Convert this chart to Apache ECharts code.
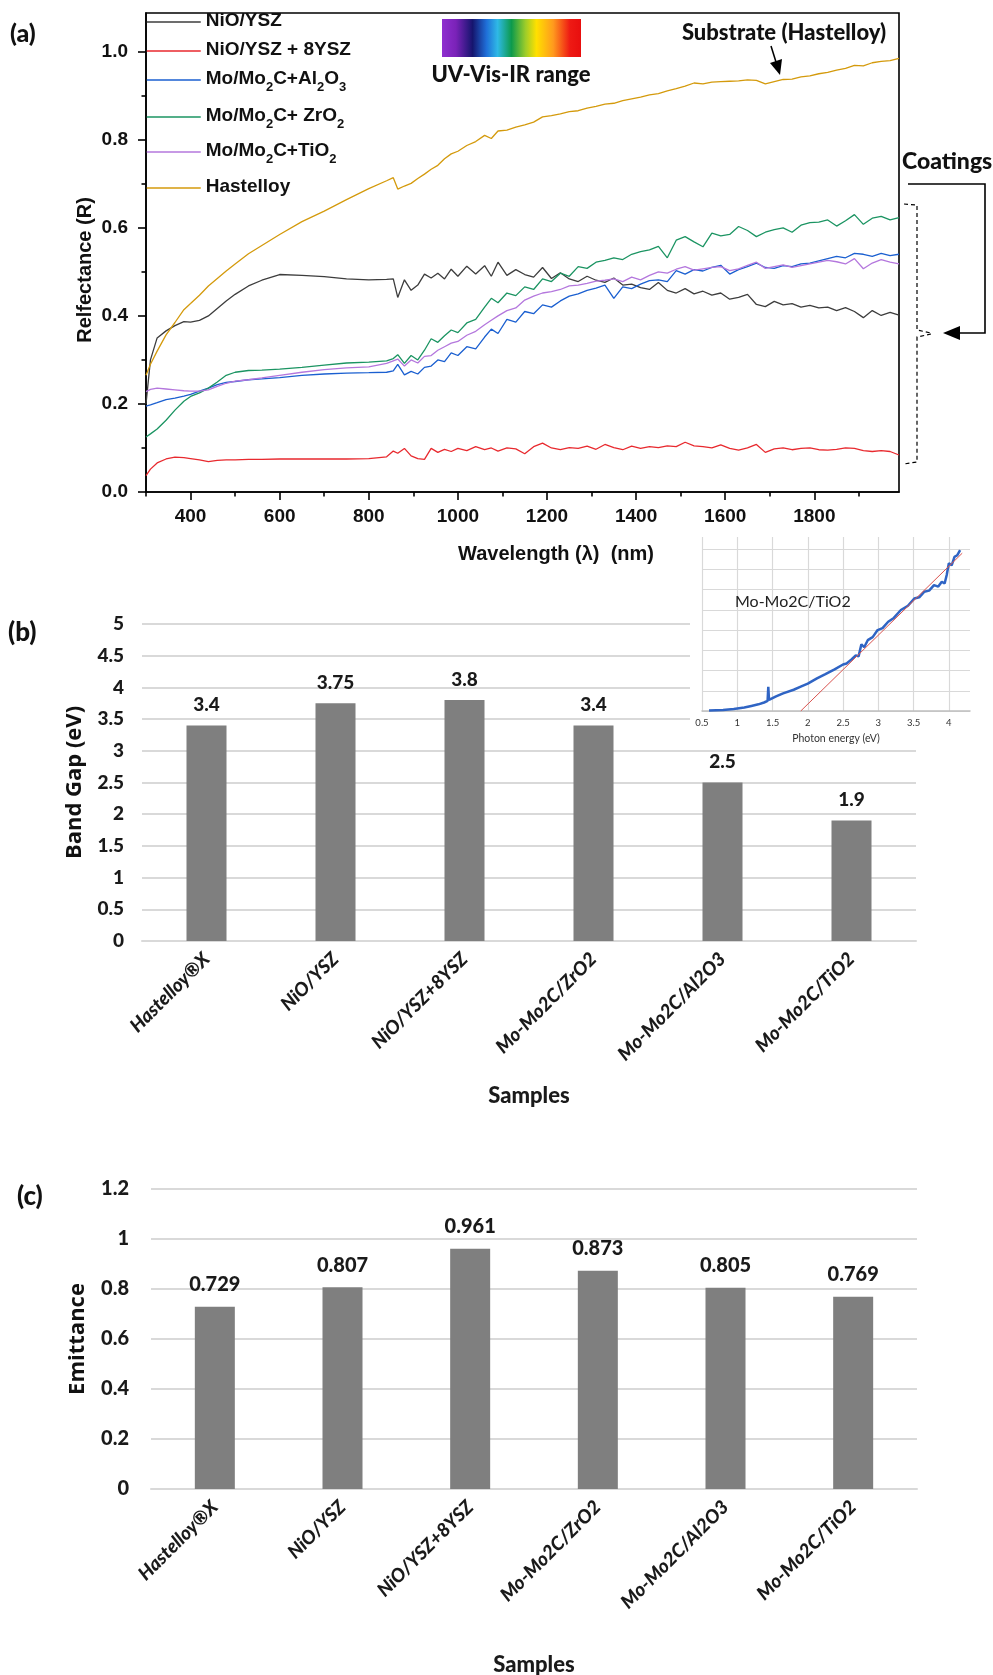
<!DOCTYPE html>
<html>
<head>
<meta charset="utf-8">
<script src="https://cdn.jsdelivr.net/npm/echarts@6/dist/echarts.min.js"></script>
<style>
html, body { margin: 0; padding: 0; background: #fff; }
#chart { width: 993px; height: 1675px; }
</style>
</head>
<body>
<div id="chart"></div>
<script>
// ---- (a) reflectance spectra ----
const wl = [
  300, 310, 325, 345, 365, 385, 400, 420, 440, 460,
  480, 500, 530, 560, 600, 650, 700, 750, 800, 840,
  855, 865, 880, 895, 910, 925, 940, 955, 970, 985,
  1000, 1020, 1040, 1060, 1075, 1090, 1110, 1130, 1150, 1170,
  1190, 1210, 1230, 1250, 1270, 1290, 1310, 1330, 1350, 1370,
  1390, 1410, 1430, 1450, 1470, 1490, 1510, 1530, 1550, 1570,
  1590, 1610, 1630, 1650, 1670, 1690, 1710, 1730, 1750, 1770,
  1790, 1810, 1830, 1850, 1870, 1890, 1910, 1930, 1950, 1970,
  1990
]
const hast = [
  0.265, 0.29, 0.32, 0.357, 0.385, 0.414, 0.428, 0.447, 0.468, 0.485,
  0.502, 0.518, 0.541, 0.56, 0.585, 0.614, 0.638, 0.664, 0.689, 0.707,
  0.714, 0.688, 0.695, 0.701, 0.712, 0.722, 0.733, 0.742, 0.757, 0.768,
  0.774, 0.787, 0.796, 0.81, 0.803, 0.82, 0.822, 0.829, 0.834, 0.84,
  0.852, 0.855, 0.859, 0.864, 0.866, 0.872, 0.876, 0.881, 0.883, 0.889,
  0.893, 0.897, 0.902, 0.905, 0.911, 0.916, 0.922, 0.929, 0.927, 0.931,
  0.932, 0.933, 0.934, 0.936, 0.935, 0.927, 0.932, 0.937, 0.938, 0.943,
  0.945, 0.95, 0.953, 0.958, 0.962, 0.969, 0.968, 0.975, 0.978, 0.98,
  0.985
]
const niO = [
  0.2, 0.3, 0.35, 0.366, 0.378, 0.387, 0.386, 0.39, 0.4, 0.417,
  0.434, 0.449, 0.468, 0.481, 0.494, 0.492, 0.489, 0.484, 0.482, 0.483,
  0.484, 0.442, 0.482, 0.458, 0.47, 0.495, 0.486, 0.497, 0.484, 0.506,
  0.49, 0.513, 0.495, 0.514, 0.49, 0.522, 0.492, 0.505, 0.494, 0.488,
  0.51, 0.485, 0.498, 0.484, 0.478, 0.49, 0.481, 0.476, 0.486, 0.47,
  0.472, 0.464, 0.46, 0.476, 0.458, 0.452, 0.462, 0.45, 0.456, 0.447,
  0.452, 0.438, 0.442, 0.449, 0.426, 0.421, 0.433, 0.425, 0.428, 0.42,
  0.424, 0.418, 0.42, 0.412, 0.419, 0.41, 0.396, 0.412, 0.401, 0.408,
  0.402
]
const niO8 = [
  0.037, 0.052, 0.066, 0.075, 0.079, 0.078, 0.076, 0.073, 0.069, 0.072,
  0.073, 0.073, 0.074, 0.074, 0.075, 0.075, 0.075, 0.075, 0.076, 0.08,
  0.093, 0.088, 0.099, 0.082, 0.076, 0.074, 0.099, 0.09, 0.097, 0.092,
  0.099, 0.094, 0.103, 0.096, 0.1, 0.093, 0.1, 0.098, 0.087, 0.103,
  0.111, 0.1, 0.096, 0.101, 0.099, 0.104, 0.097, 0.108, 0.101, 0.096,
  0.104, 0.099, 0.103, 0.101, 0.105, 0.103, 0.113, 0.105, 0.103, 0.1,
  0.107, 0.099, 0.095, 0.1, 0.108, 0.09, 0.098, 0.1, 0.096, 0.099,
  0.1, 0.096, 0.095, 0.097, 0.1, 0.099, 0.094, 0.092, 0.094, 0.092,
  0.084
]
const zro2 = [
  0.125, 0.132, 0.143, 0.163, 0.186, 0.206, 0.217, 0.225, 0.236, 0.25,
  0.265, 0.272, 0.276, 0.277, 0.279, 0.283, 0.288, 0.293, 0.295, 0.298,
  0.303, 0.312, 0.292, 0.31, 0.3, 0.322, 0.348, 0.34, 0.355, 0.368,
  0.362, 0.384, 0.392, 0.42, 0.44, 0.43, 0.452, 0.446, 0.466, 0.46,
  0.484, 0.478, 0.497, 0.49, 0.512, 0.508, 0.522, 0.526, 0.532, 0.528,
  0.54, 0.546, 0.55, 0.558, 0.532, 0.572, 0.58, 0.568, 0.557, 0.588,
  0.582, 0.585, 0.603, 0.594, 0.58, 0.59, 0.596, 0.6, 0.59, 0.606,
  0.612, 0.613, 0.618, 0.604, 0.616, 0.63, 0.608, 0.622, 0.626, 0.618,
  0.623
]
const al2o3 = [
  0.195, 0.198, 0.203, 0.21, 0.213, 0.218, 0.222, 0.229, 0.236, 0.244,
  0.249, 0.251, 0.255, 0.257, 0.26, 0.265, 0.268, 0.27, 0.271, 0.272,
  0.275, 0.29, 0.266, 0.274, 0.268, 0.283, 0.286, 0.3, 0.296, 0.316,
  0.31, 0.33, 0.325, 0.352, 0.37, 0.36, 0.392, 0.386, 0.41, 0.405,
  0.425, 0.42, 0.434, 0.445, 0.45, 0.458, 0.463, 0.47, 0.44, 0.466,
  0.462, 0.472, 0.48, 0.482, 0.478, 0.503, 0.495, 0.505, 0.502, 0.51,
  0.515, 0.495, 0.505, 0.512, 0.52, 0.51, 0.508, 0.514, 0.512, 0.518,
  0.52, 0.525, 0.53, 0.535, 0.532, 0.542, 0.54, 0.535, 0.542, 0.537,
  0.54
]
const tio2 = [
  0.228, 0.233, 0.236, 0.234, 0.232, 0.23, 0.229, 0.229, 0.232, 0.24,
  0.247, 0.252, 0.255, 0.259, 0.265, 0.272, 0.278, 0.282, 0.284, 0.292,
  0.298, 0.302, 0.286, 0.3, 0.293, 0.308, 0.31, 0.322, 0.33, 0.338,
  0.342, 0.356, 0.365, 0.38, 0.39, 0.4, 0.412, 0.418, 0.436, 0.445,
  0.452, 0.455, 0.46, 0.468, 0.47, 0.474, 0.479, 0.481, 0.484, 0.478,
  0.488, 0.482, 0.492, 0.5, 0.497, 0.506, 0.512, 0.504, 0.507, 0.51,
  0.512, 0.503, 0.507, 0.515, 0.522, 0.508, 0.512, 0.516, 0.51, 0.514,
  0.518, 0.522, 0.526, 0.523, 0.518, 0.53, 0.507, 0.52, 0.528, 0.522,
  0.518
]
const wlTicks = [400, 600, 800, 1000, 1200, 1400, 1600, 1800]
const wlMinor = [300, 500, 700, 900, 1100, 1300, 1500, 1700, 1900]
const rTicks = [0, 0.2, 0.4, 0.6, 0.8, 1.0]
const rMinor = [0.1, 0.3, 0.5, 0.7, 0.9]

// ---- (b) / (c) bars ----
const samples = ['Hastelloy®X', 'NiO/YSZ', 'NiO/YSZ+8YSZ', 'Mo-Mo2C/ZrO2', 'Mo-Mo2C/Al2O3', 'Mo-Mo2C/TiO2']
const bandGap = [3.4, 3.75, 3.8, 3.4, 2.5, 1.9]
const emittance = [0.729, 0.807, 0.961, 0.873, 0.805, 0.769]

// ---- inset (Tauc plot) ----
const insetE = [0.6, 0.8, 0.95, 1.1, 1.2, 1.3, 1.38, 1.43, 1.44, 1.45,
  1.47, 1.55, 1.65, 1.8, 1.9, 2.0, 2.13, 2.25, 2.38, 2.5,
  2.55, 2.62, 2.68, 2.72, 2.76, 2.8, 2.85, 2.92, 2.99, 3.06,
  3.14, 3.22, 3.32, 3.42, 3.51, 3.58, 3.65, 3.72, 3.79, 3.85,
  3.9, 3.94, 3.97, 4.0, 4.04, 4.08, 4.12, 4.16]
const insetV = [0.02, 0.05, 0.1, 0.17, 0.25, 0.33, 0.42, 0.5, 1.2, 0.55,
  0.62, 0.72, 0.87, 1.05, 1.2, 1.35, 1.61, 1.82, 2.06, 2.3,
  2.35, 2.55, 2.75, 2.7, 3.3, 3.15, 3.5, 3.65, 4.0, 4.1,
  4.41, 4.6, 4.99, 5.2, 5.56, 5.62, 5.89, 5.95, 6.22, 6.15,
  6.39, 6.3, 6.72, 7.3, 7.2, 7.62, 7.7, 7.95]
const tangentE = [1.9, 4.19]
const tangentV = [0, 7.8]
const insetTicks = [0.5, 1, 1.5, 2, 2.5, 3, 3.5, 4]
const insetRows = [0, 1, 2, 3, 4, 5, 6, 7, 8]

const seriesNames = ['NiO/YSZ', 'NiO/YSZ + 8YSZ', 'Mo/Mo2C+Al2O3', 'Mo/Mo2C+ ZrO2', 'Mo/Mo2C+TiO2', 'Hastelloy']
const seriesColors = ['#3d3d3d', '#e8292e', '#1a5fd0', '#1b9462', '#b477dd', '#d49a0c']
const reflData = [niO, niO8, al2o3, zro2, tio2, hast]
const legendRowY = [22, 51, 80, 117, 152, 188]

const FA = "'Liberation Sans', Arial, sans-serif"
const FB = "Lato, 'Noto Sans', sans-serif"
const FO = "'Open Sans', sans-serif"
const black = { color: '#000', width: 1.6 }

const subFmt = name => '{n|' + name.replace(/([A-Za-z])(\d)/g, '$1}{s|$2}{n|') + '}'

// one legend per row so each row sits where it does in the figure
const legends = seriesNames.map((name, i) => ({
  data: [name],
  left: 146,
  top: legendRowY[i] - 11,
  orient: 'vertical',
  padding: 0,
  itemWidth: 54,
  itemHeight: 12,
  selectedMode: false,
  itemStyle: { opacity: 0 },
  lineStyle: { width: 1.5 },
  formatter: subFmt,
  textStyle: {
    color: '#111',
    rich: {
      n: { fontFamily: FA, fontSize: 19, fontWeight: 'bold', color: '#111', lineHeight: 22, verticalAlign: 'top' },
      s: { fontFamily: FA, fontSize: 13, fontWeight: 'bold', color: '#111', lineHeight: 13, padding: [12, 0, 0, 0], verticalAlign: 'top' }
    }
  }
}))

const lineSeries = seriesNames.map((name, i) => ({
  name: name,
  type: 'line',
  xAxisIndex: 0,
  yAxisIndex: 0,
  symbol: 'none',
  data: wl.map((x, j) => [x, reflData[i][j]]),
  lineStyle: { color: seriesColors[i], width: 1.3 },
  itemStyle: { color: seriesColors[i] }
}))

const barLabel = (size, dist) => ({
  show: true, position: 'top', distance: dist,
  fontFamily: FB, fontSize: size, fontWeight: 900, color: '#1a1a1a'
})

const catAxis = (grid, gap) => ({
  gridIndex: grid,
  type: 'category',
  data: samples,
  axisLine: { show: true, lineStyle: { color: '#d9d9d9', width: 2 } },
  axisTick: { show: false },
  axisLabel: { interval: 0, rotate: 45, margin: 15, fontFamily: FB, fontStyle: 'italic', fontWeight: 900, fontSize: 19, color: '#1a1a1a' },
  name: 'Samples',
  nameLocation: 'middle',
  nameGap: gap,
  nameTextStyle: { fontFamily: FB, fontWeight: 900, fontSize: 22, color: '#1a1a1a' }
})

const chart = echarts.init(document.getElementById('chart'))
chart.setOption({
  animation: false,
  backgroundColor: '#fff',
  legend: legends,
  grid: [
    { left: 146, top: 13, width: 753, height: 479, show: true, borderColor: '#000', borderWidth: 1.6, backgroundColor: 'transparent', outerBoundsMode: 'none' },
    { left: 142, top: 624, width: 774, height: 317, outerBoundsMode: 'none' },
    { left: 151, top: 1189, width: 766, height: 300, outerBoundsMode: 'none' },
    { left: 702, top: 537, width: 268, height: 174, z: 10, outerBoundsMode: 'none' }
  ],
  xAxis: [
    {
      gridIndex: 0, type: 'value', min: 300, max: 1990, position: 'bottom',
      axisLine: { lineStyle: black },
      axisTick: { customValues: wlTicks, length: 8, lineStyle: black },
      axisLabel: { customValues: wlTicks, formatter: v => String(v), margin: 15, fontFamily: FA, fontSize: 19, fontWeight: 'bold', color: '#111' },
      splitLine: { show: false }
    },
    {
      gridIndex: 0, type: 'value', min: 300, max: 1990, position: 'bottom',
      axisLine: { show: false },
      axisTick: { customValues: wlMinor, length: 4.5, lineStyle: black },
      axisLabel: { show: false },
      splitLine: { show: false }
    },
    catAxis(1, 144),
    catAxis(2, 165),
    {
      gridIndex: 3, type: 'value', min: 0.5, max: 4.3, z: 10,
      axisLine: { lineStyle: { color: '#bfbfbf', width: 1.5 } },
      axisTick: { show: false, customValues: insetTicks },
      axisLabel: { customValues: insetTicks, margin: 7, fontFamily: FB, fontSize: 9.5, color: '#333' },
      splitLine: { show: true, lineStyle: { color: '#d9d9d9', width: 1.2 } },
      name: 'Photon energy (eV)', nameLocation: 'middle', nameGap: 22,
      nameTextStyle: { fontFamily: FB, fontSize: 10.5, color: '#333' }
    }
  ],
  yAxis: [
    {
      gridIndex: 0, type: 'value', min: 0, max: 1.088, position: 'left',
      axisLine: { show: true, lineStyle: black },
      axisTick: { show: true, customValues: rTicks, length: 8, lineStyle: black },
      axisLabel: { customValues: rTicks, formatter: v => v.toFixed(1), margin: 18, fontFamily: FA, fontSize: 19, fontWeight: 'bold', color: '#111' },
      splitLine: { show: false }
    },
    {
      gridIndex: 0, type: 'value', min: 0, max: 1.088, position: 'left',
      axisLine: { show: false },
      axisTick: { show: true, customValues: rMinor, length: 4.5, lineStyle: black },
      axisLabel: { show: false },
      splitLine: { show: false }
    },
    {
      gridIndex: 1, type: 'value', min: 0, max: 5, interval: 0.5,
      axisLine: { show: false }, axisTick: { show: false },
      axisLabel: { margin: 18, fontFamily: FB, fontSize: 19, fontWeight: 900, color: '#1a1a1a' },
      splitLine: { lineStyle: { color: '#d9d9d9', width: 2 } },
      name: 'Band Gap (eV)', nameLocation: 'middle', nameGap: 56,
      nameTextStyle: { fontFamily: FO, fontSize: 22, fontWeight: 'bold', color: '#111' }
    },
    {
      gridIndex: 2, type: 'value', min: 0, max: 1.2, interval: 0.2,
      axisLine: { show: false }, axisTick: { show: false },
      axisLabel: { margin: 22, fontFamily: FB, fontSize: 20, fontWeight: 900, color: '#1a1a1a' },
      splitLine: { lineStyle: { color: '#d9d9d9', width: 2 } },
      name: 'Emittance', nameLocation: 'middle', nameGap: 62,
      nameTextStyle: { fontFamily: FO, fontSize: 22, fontWeight: 'bold', color: '#111' }
    },
    {
      gridIndex: 3, type: 'value', min: 0, max: 8.6, z: 10,
      axisLine: { show: false },
      axisTick: { show: false, customValues: insetRows },
      axisLabel: { show: false },
      splitLine: { show: true, lineStyle: { color: '#d9d9d9', width: 1.2 } }
    }
  ],
  series: lineSeries.concat([
    {
      type: 'bar', xAxisIndex: 2, yAxisIndex: 2, data: bandGap, barWidth: 40,
      itemStyle: { color: '#7f7f7f' }, label: barLabel(19, 11)
    },
    {
      type: 'bar', xAxisIndex: 3, yAxisIndex: 3, data: emittance, barWidth: 40,
      itemStyle: { color: '#7f7f7f' }, label: barLabel(20, 12)
    },
    {
      type: 'line', xAxisIndex: 4, yAxisIndex: 4, symbol: 'none', z: 12,
      data: insetE.map((x, j) => [x, insetV[j]]),
      lineStyle: { color: '#2f64c4', width: 2.5 }
    },
    {
      type: 'line', xAxisIndex: 4, yAxisIndex: 4, symbol: 'none', z: 13,
      data: tangentE.map((x, j) => [x, tangentV[j]]),
      lineStyle: { color: '#d9534f', width: 1 }
    }
  ]),
  graphic: [
    { type: 'text', x: 10, y: 34, style: { text: '(a)', fontFamily: FB, fontSize: 25, fontWeight: 900, fill: '#111', align: 'left', verticalAlign: 'middle' } },
    {
      type: 'rect', shape: { x: 442, y: 19, width: 139, height: 38 },
      style: {
        fill: new echarts.graphic.LinearGradient(0, 0, 1, 0, [
          { offset: 0, color: '#8f2fcf' },
          { offset: 0.1, color: '#7a22b8' },
          { offset: 0.22, color: '#15156e' },
          { offset: 0.32, color: '#1f6fd8' },
          { offset: 0.4, color: '#2fb9e6' },
          { offset: 0.5, color: '#0d9a4c' },
          { offset: 0.6, color: '#9ccc2a' },
          { offset: 0.68, color: '#ffe000' },
          { offset: 0.8, color: '#ff9a1e' },
          { offset: 0.92, color: '#ee1a14' },
          { offset: 1, color: '#e80e0e' }
        ])
      }
    },
    { type: 'text', x: 511, y: 75, style: { text: 'UV-Vis-IR range', fontFamily: FB, fontSize: 22, fontWeight: 900, fill: '#111', align: 'center', verticalAlign: 'middle' } },
    { type: 'text', x: 784, y: 33, style: { text: 'Substrate (Hastelloy)', fontFamily: FB, fontSize: 22, fontWeight: 900, fill: '#111', align: 'center', verticalAlign: 'middle' } },
    { type: 'line', shape: { x1: 771, y1: 46, x2: 776, y2: 62 }, style: { stroke: '#000', lineWidth: 1.5 } },
    { type: 'polygon', shape: { points: [[780, 75], [770, 63], [782, 59]] }, style: { fill: '#000' } },
    { type: 'text', x: 902, y: 162, style: { text: 'Coatings', fontFamily: FB, fontSize: 23, fontWeight: 900, fill: '#111', align: 'left', verticalAlign: 'middle' } },
    { type: 'polyline', shape: { points: [[908, 184], [985, 184], [985, 333], [958, 333]] }, style: { stroke: '#000', lineWidth: 1.6, fill: null } },
    { type: 'polygon', shape: { points: [[943, 333], [960, 326], [960, 340]] }, style: { fill: '#000' } },
    { type: 'polyline', shape: { points: [[904, 204], [917, 205], [917, 330], [931, 333]] }, style: { stroke: '#000', lineWidth: 1.2, lineDash: [4, 3], fill: null } },
    { type: 'polyline', shape: { points: [[931, 334], [917, 337], [917, 462], [904, 464]] }, style: { stroke: '#000', lineWidth: 1.2, lineDash: [4, 3], fill: null } },
    { type: 'text', x: 85, y: 270, rotation: Math.PI / 2, style: { text: 'Relfectance (R)', fontFamily: FA, fontSize: 20, fontWeight: 'bold', fill: '#111', align: 'center', verticalAlign: 'middle' } },
    { type: 'text', x: 556, y: 554, style: { text: 'Wavelength (λ)  (nm)', fontFamily: FA, fontSize: 20, fontWeight: 'bold', fill: '#111', align: 'center', verticalAlign: 'middle' } },
    { type: 'text', x: 8, y: 633, style: { text: '(b)', fontFamily: FB, fontSize: 26, fontWeight: 900, fill: '#111', align: 'left', verticalAlign: 'middle' } },
    { type: 'rect', z: 5, shape: { x: 690, y: 527, width: 295, height: 222 }, style: { fill: '#fff' } },
    { type: 'text', z: 20, x: 735, y: 602, style: { text: 'Mo-Mo2C/TiO2', fontFamily: FB, fontSize: 16, fill: '#222', align: 'left', verticalAlign: 'middle' } },
    { type: 'text', x: 17, y: 1197, style: { text: '(c)', fontFamily: FB, fontSize: 26, fontWeight: 900, fill: '#111', align: 'left', verticalAlign: 'middle' } }
  ]
})
</script>
</body>
</html>
